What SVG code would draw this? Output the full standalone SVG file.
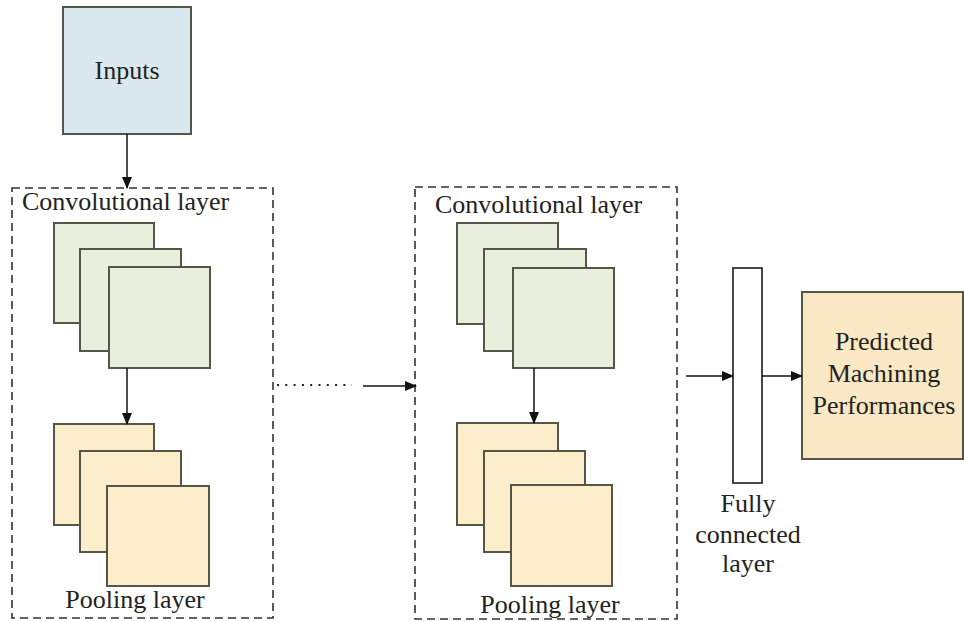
<svg xmlns="http://www.w3.org/2000/svg" width="964" height="622" viewBox="0 0 964 622" font-family="'Liberation Serif', 'DejaVu Serif', serif">
<defs>
<marker id="ah" markerWidth="12" markerHeight="10" refX="11" refY="5" orient="auto" markerUnits="userSpaceOnUse">
<path d="M0,0 L12,5 L0,10 Z" fill="#111"/>
</marker>
<style>
text{font-family:'Liberation Serif','DejaVu Serif',serif;font-size:26px;fill:#222}
.box{stroke:#555548;stroke-width:2}
.conv{fill:#e8efdc}
.pool{fill:#fdeecb}
.dash{fill:none;stroke:#333;stroke-width:1.6;stroke-dasharray:8 5}
.edge{stroke:#111;stroke-width:1.5;fill:none}
.mid{text-anchor:middle}
</style>
</defs>
<rect width="964" height="622" fill="#fff"/>
<g id="inputs">
<rect class="box" x="63" y="7" width="128" height="127" fill="#dae8f0"/>
<text class="mid" x="127" y="79">Inputs</text>
</g>
<g id="block1">
<rect class="dash" x="12" y="188" width="261" height="430"/>
<text x="22" y="210">Convolutional layer</text>
</g>
<g id="conv1">
<rect class="box conv" x="54" y="223" width="100" height="100"/>
<rect class="box conv" x="80" y="249" width="101" height="102"/>
<rect class="box conv" x="109" y="267" width="101" height="101"/>
</g>
<g id="pool1">
<rect class="box pool" x="54" y="424" width="100" height="101"/>
<rect class="box pool" x="80" y="451" width="101" height="101"/>
<rect class="box pool" x="107" y="486" width="102" height="100"/>
<text class="mid" x="135" y="608">Pooling layer</text>
</g>
<g id="block2">
<rect class="dash" x="415" y="187" width="262" height="432"/>
<text x="435" y="213">Convolutional layer</text>
</g>
<g id="conv2">
<rect class="box conv" x="457" y="223" width="101" height="101"/>
<rect class="box conv" x="484" y="249" width="102" height="102"/>
<rect class="box conv" x="513" y="268" width="101" height="100"/>
</g>
<g id="pool2">
<rect class="box pool" x="457" y="423" width="101" height="102"/>
<rect class="box pool" x="484" y="451" width="101" height="101"/>
<rect class="box pool" x="511" y="485" width="101" height="101"/>
<text class="mid" x="550" y="613">Pooling layer</text>
</g>
<g id="fc">
<rect x="733" y="268" width="29" height="215" fill="#fff" stroke="#333" stroke-width="1.8"/>
<text class="mid" x="748" y="512">Fully</text>
<text class="mid" x="748" y="543">connected</text>
<text class="mid" x="748" y="572">layer</text>
</g>
<g id="output">
<rect class="box" x="802" y="292" width="161" height="167" fill="#fae7c4"/>
<text class="mid" x="884" y="350">Predicted</text>
<text class="mid" x="884" y="382">Machining</text>
<text class="mid" x="884" y="414">Performances</text>
</g>
<g id="connectors">
<line class="edge" x1="127" y1="134" x2="127" y2="188" marker-end="url(#ah)"/>
<line class="edge" x1="127" y1="368" x2="127" y2="424" marker-end="url(#ah)"/>
<line x1="277" y1="385" x2="352" y2="385" stroke="#222" stroke-width="2" stroke-dasharray="2 6.3"/>
<line class="edge" x1="363" y1="386" x2="416" y2="386" marker-end="url(#ah)"/>
<line class="edge" x1="534" y1="368" x2="534" y2="423" marker-end="url(#ah)"/>
<line class="edge" x1="686" y1="376" x2="733" y2="376" marker-end="url(#ah)"/>
<line class="edge" x1="762" y1="376" x2="802" y2="376" marker-end="url(#ah)"/>
</g>
</svg>
